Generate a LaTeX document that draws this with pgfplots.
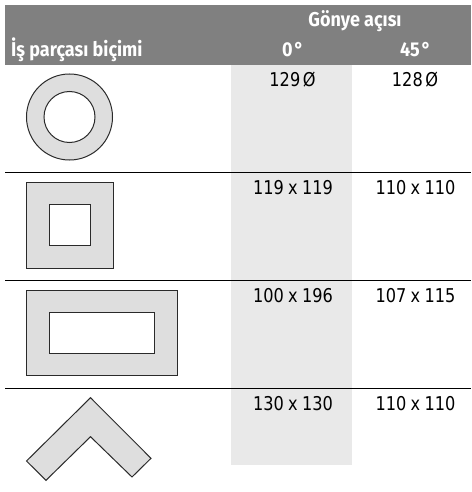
\documentclass[border=0pt]{standalone}
\usepackage{pgfplots}
\pgfplotsset{compat=1.18}
\usepackage{fontspec}
\setmainfont{Fira Sans}
\newfontfamily\cellfont{DejaVu Sans}
\definecolor{hdr}{HTML}{808080}
\definecolor{band}{HTML}{E9E9E9}
\definecolor{shape}{HTML}{DEDEDE}
\definecolor{edge}{HTML}{2A2A2A}
\newcommand{\xx}{\hspace{5pt}x\hspace{5pt}}
\tikzset{
  hd/.style={text=white, font=\fontsize{20}{20}\selectfont\bfseries, anchor=base, xscale=0.9, inner sep=0pt},
  cl/.style={text=black, font=\cellfont\fontsize{19}{19}\selectfont, anchor=base, xscale=0.85, inner sep=0pt},
  shp/.style={draw=edge, line width=1pt, fill=shape},
  hole/.style={draw=edge, line width=1pt, fill=white},
  rule/.style={draw=black, line width=1pt},
}
\begin{document}
\begin{tikzpicture}
\begin{axis}[
  scale only axis, width=471pt, height=492pt,
  xmin=0, xmax=471, ymin=0, ymax=492, y dir=reverse,
  axis lines=none, clip=true,
]
% page background
\addplot[fill=white, draw=none] coordinates {(0,0) (471,0) (471,492) (0,492)} -- cycle;
% header and shaded column
\addplot[fill=hdr, draw=none] coordinates {(5,5) (471,5) (471,65) (5,65)} -- cycle;
\addplot[fill=band, draw=none] coordinates {(231,65) (352,65) (352,465) (231,465)} -- cycle;
% rules
\addplot[rule] coordinates {(5,172.5) (471,172.5)};
\addplot[rule] coordinates {(5,280.5) (471,280.5)};
\addplot[rule] coordinates {(5,388.5) (471,388.5)};
% ring
\addplot[only marks, mark=*, mark size=43pt, mark options={draw=edge, fill=shape, line width=1pt}] coordinates {(69.5,117)};
\addplot[only marks, mark=*, mark size=25.5pt, mark options={draw=edge, fill=white, line width=1pt}] coordinates {(69.5,117)};
% square
\addplot[shp] coordinates {(26.5,182) (113,182) (113,268) (26.5,268)} -- cycle;
\addplot[hole] coordinates {(49,204.5) (90.5,204.5) (90.5,245.5) (49,245.5)} -- cycle;
% rectangle
\addplot[shp] coordinates {(26.5,290) (177,290) (177,375.5) (26.5,375.5)} -- cycle;
\addplot[hole] coordinates {(49,312) (154.5,312) (154.5,353) (49,353)} -- cycle;
% chevron
\addplot[shp] coordinates {(90.5,397.7) (151,458.3) (132,477) (90.5,436.7) (46,480.3) (26.5,461)} -- cycle;
% text
\node[hd] at (axis cs:355,27) {Gönye açısı};
\node[hd, anchor=base west] at (axis cs:11,57) {İş parçası biçimi};
\node[hd] at (axis cs:293,57) {0\hspace{2pt}°};
\node[hd] at (axis cs:415.5,57) {45\hspace{2pt}°};
\node[cl] at (axis cs:292.5,87) {129\hspace{3pt}Ø};
\node[cl] at (axis cs:415,87) {128\hspace{3pt}Ø};
\node[cl] at (axis cs:293,194) {119\xx 119};
\node[cl] at (axis cs:415.5,194) {110\xx 110};
\node[cl] at (axis cs:293,302) {100\xx 196};
\node[cl] at (axis cs:415.5,302) {107\xx 115};
\node[cl] at (axis cs:293,410) {130\xx 130};
\node[cl] at (axis cs:415.5,410) {110\xx 110};
\end{axis}
\end{tikzpicture}
\end{document}
